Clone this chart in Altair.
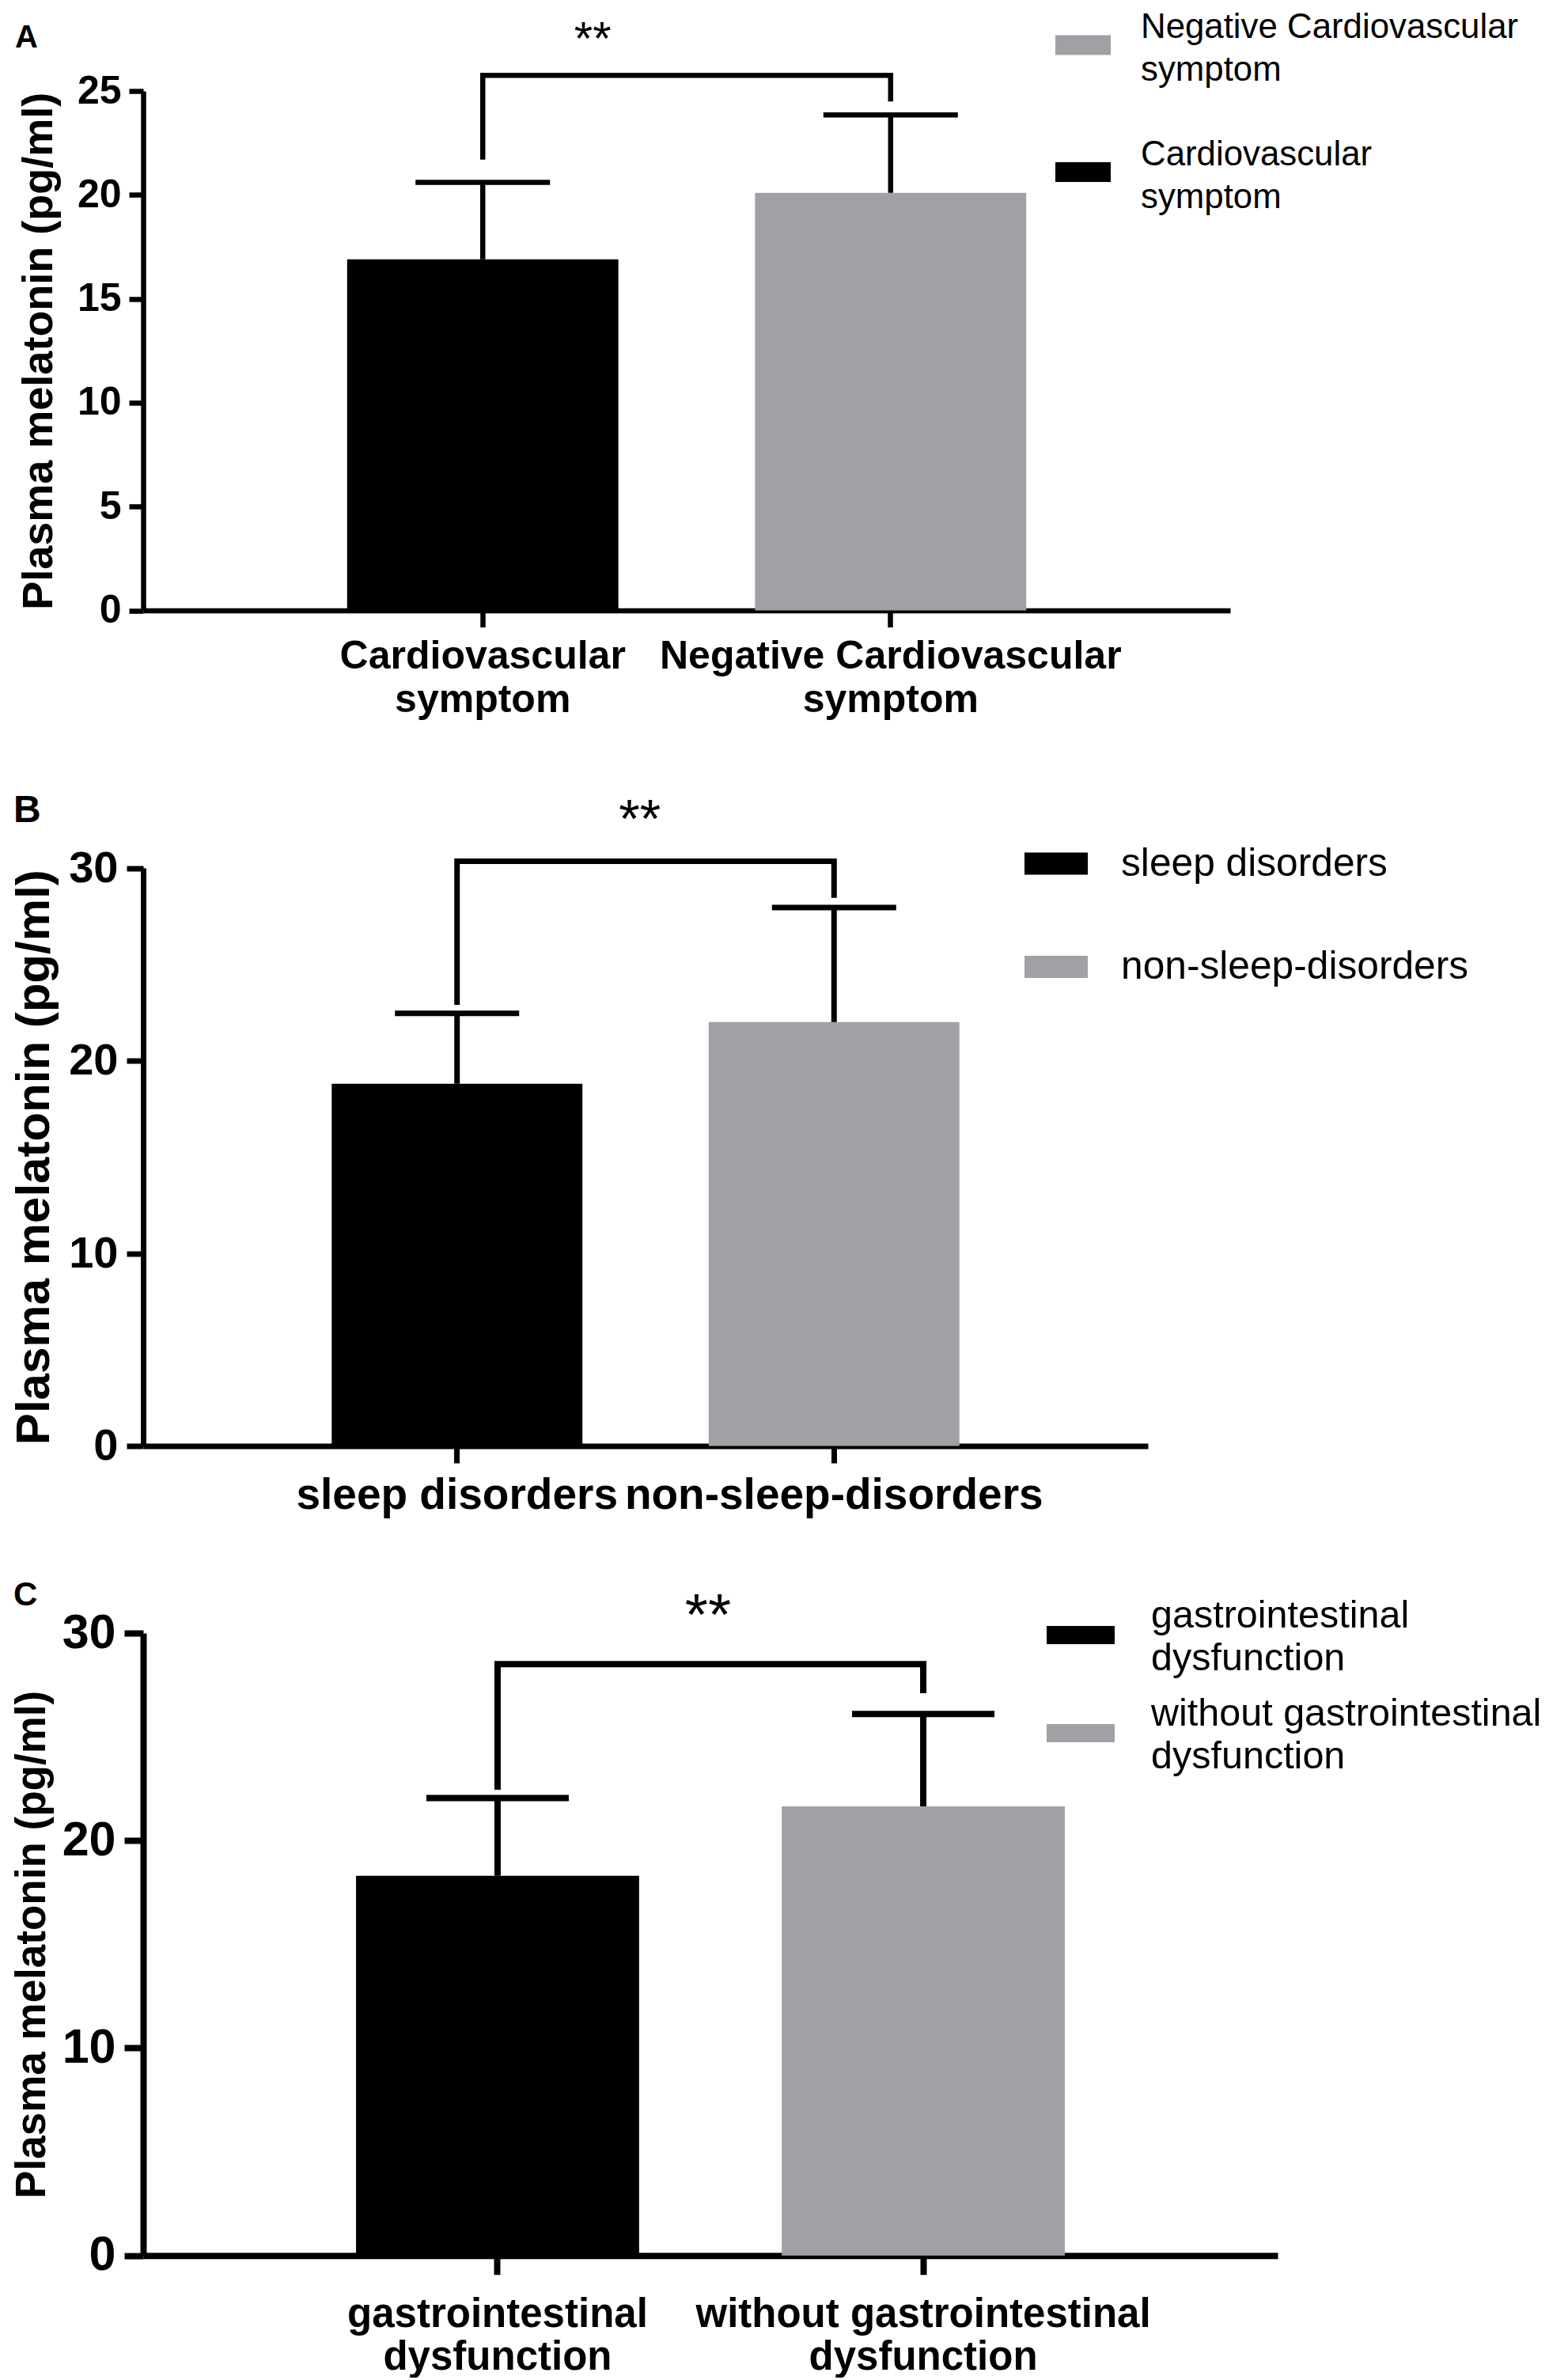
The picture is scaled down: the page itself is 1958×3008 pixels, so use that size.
import altair as alt
import pandas as pd

FONT = "Liberation Sans"
BLACK = "#000000"
GRAY = "#a1a1a5"
YTITLE = "Plasma melatonin (pg/ml)"

# ---------------- data ----------------
# Panel A
a_groups = ["Cardiovascular symptom", "Negative Cardiovascular symptom"]
a_means = [16.9, 20.1]
a_upper = [20.6, 23.85]          # mean + SD (top of error bar)
a_colors = [BLACK, GRAY]
a_legend_order = ["Negative Cardiovascular symptom", "Cardiovascular symptom"]
a_bracket_y = 25.75
a_leg_bottom = [21.7, 24.5]
a_star_y = 28.1
a_yticks = [0, 5, 10, 15, 20, 25]
a_ymax = 25

# Panel B
b_groups = ["sleep disorders", "non-sleep-disorders"]
b_means = [18.8, 22.0]
b_upper = [22.45, 27.95]
b_colors = [BLACK, GRAY]
b_legend_order = ["sleep disorders", "non-sleep-disorders"]
b_bracket_y = 30.35
b_leg_bottom = [22.9, 28.45]
b_star_y = 33.2
b_yticks = [0, 10, 20, 30]
b_ymax = 30

# Panel C
c_groups = ["gastrointestinal dysfunction", "without gastrointestinal dysfunction"]
c_means = [18.3, 21.65]
c_upper = [22.05, 26.1]
c_colors = [BLACK, GRAY]
c_legend_order = ["gastrointestinal dysfunction", "without gastrointestinal dysfunction"]
c_bracket_y = 28.5
c_leg_bottom = [22.45, 27.1]
c_star_y = 31.6
c_yticks = [0, 10, 20, 30]
c_ymax = 30

SPLIT = ("[slice(datum.label, 0, lastindexof(datum.label, ' ')), "
         "slice(datum.label, lastindexof(datum.label, ' ') + 1)]")


def rect_path(h):
    return f"M-1,{-h}L1,{-h}L1,{h}L-1,{h}Z"


def panel(letter, groups, means, upper, colors, legend_order, bracket_y,
          leg_bottom, star_y, yticks, ymax, st):
    bars_df = pd.DataFrame({"group": groups, "mean": means, "upper": upper})
    cmap = dict(zip(groups, colors))
    legend_colors = [cmap[g] for g in legend_order]
    br_df = pd.DataFrame({
        "group": [groups[0], groups[0], groups[1], groups[1]],
        "y": [leg_bottom[0], bracket_y, bracket_y, leg_bottom[1]],
        "k": [0, 1, 2, 3],
    })
    star_df = pd.DataFrame({"group": [groups[0]], "y": [star_y], "t": ["**"]})

    sw = st["sw"]
    yscale_kw = dict(domain=[0, ymax], nice=False, zero=True)
    if "yrange" in st:
        yscale_kw["range"] = st["yrange"]
    yscale = alt.Scale(**yscale_kw)
    yaxis = alt.Axis(
        values=yticks, grid=False, format="d",
        domainColor=BLACK, domainWidth=sw, tickColor=BLACK, tickWidth=sw,
        tickSize=st["ytick"], labelFont=FONT, labelFontSize=st["ylab"],
        labelFontWeight="bold", labelColor=BLACK, labelPadding=st["ylabpad"],
        titleFont=FONT, titleFontSize=st["ytitle"], titleFontWeight="bold",
        titleColor=BLACK, titleAngle=270, titleX=st["titleX"],
        titleY=st["titleY"], titleBaseline="alphabetic", titleAlign="center",
    )
    xscale = alt.Scale(domain=groups, paddingInner=0.335, paddingOuter=0.5)
    xaxis_kw = dict(
        labelAngle=0, labelFont=FONT, labelFontSize=st["xlab"],
        labelFontWeight="bold", labelColor=BLACK, labelLineHeight=st["xlh"],
        labelPadding=st["xlabpad"], labelLimit=1200, tickSize=st["xtick"],
        tickWidth=sw, tickColor=BLACK, domainColor=BLACK, domainWidth=sw,
        grid=False,
    )
    if st["split"]:
        xaxis_kw["labelExpr"] = SPLIT
    xaxis = alt.Axis(**xaxis_kw)

    def X():
        return alt.X("group:N", scale=xscale, axis=xaxis, title=None, sort=groups)

    def Y(field):
        return alt.Y(f"{field}:Q", scale=yscale, axis=yaxis, title=YTITLE)

    legend_kw = dict(
        orient="none", legendX=st["lx"], legendY=st["ly"], title=None,
        symbolType=rect_path(st["sym_h"]), symbolSize=st["sym_w"] ** 2,
        symbolStrokeWidth=0, symbolOpacity=1, labelFont=FONT,
        labelFontSize=st["legfs"], labelColor=BLACK, labelOffset=st["laboff"],
        labelLimit=1200, rowPadding=st["rowpad"], padding=0,
        labelBaseline="bottom" if st["split"] else "middle",
    )
    if st["split"]:
        legend_kw["labelExpr"] = SPLIT

    bars = alt.Chart(bars_df).mark_bar(opacity=1).encode(
        x=X(), y=Y("mean"),
        color=alt.Color("group:N",
                        scale=alt.Scale(domain=legend_order, range=legend_colors),
                        legend=alt.Legend(**legend_kw)),
    )
    stems = alt.Chart(bars_df).mark_rule(color=BLACK, strokeWidth=sw, opacity=1).encode(
        x=X(), y=Y("mean"), y2=alt.Y2("upper:Q"))
    caps = alt.Chart(bars_df).mark_tick(
        color=BLACK, size=st["cap"], thickness=sw, opacity=1).encode(
        x=X(), y=Y("upper"))
    bracket = alt.Chart(br_df).mark_line(
        color=BLACK, strokeWidth=sw, strokeJoin="miter", strokeCap="butt",
        opacity=1).encode(
        x=X(), y=Y("y"), order=alt.Order("k:Q"))
    stars = alt.Chart(star_df).mark_text(
        font=FONT, fontSize=st["starfs"], color=BLACK, align="center",
        baseline="middle", dx=st["stardx"], dy=round(0.28 * st["starfs"])).encode(
        x=X(), y=Y("y"), text="t:N")

    return alt.layer(bars, stems, caps, bracket, stars).properties(
        width=st["w"], height=st["h"],
        title=alt.TitleParams(text=letter, anchor="start", frame="group",
                              font=FONT, fontSize=st["letfs"], fontWeight="bold",
                              color=BLACK, dx=st["letdx"], offset=st["letoff"],
                              baseline="alphabetic"),
    )


st_a = dict(w=1374, h=656.5, sw=6.5, ytick=18, xtick=21, ylab=50, ylabpad=10,
            ytitle=54, titleX=-116, titleY=328.25, xlab=50, xlh=55, xlabpad=11.5,
            split=True, cap=170, starfs=60, stardx=139,
            lx=1153, ly=-93, sym_w=70, sym_h=0.357, legfs=43.8, laboff=38,
            rowpad=62.5, letfs=40, letdx=-162, letoff=-79)
st_b = dict(w=1270, h=819, yrange=[819, 88.5], sw=7, ytick=21, xtick=21.5,
            ylab=56, ylabpad=11, ytitle=60, titleX=-120, titleY=453.75, xlab=55,
            xlh=60, xlabpad=14.5, split=False, cap=157, starfs=68, stardx=231,
            lx=1114, ly=43, sym_w=80, sym_h=0.35, legfs=49.7,
            laboff=42, rowpad=65.5, letfs=48, letdx=-164, letoff=-82.7)
st_c = dict(w=1434, h=786.7, sw=8, ytick=24, xtick=24, ylab=61, ylabpad=11,
            ytitle=53, titleX=-125, titleY=393.35, xlab=51, xlh=54, xlabpad=26,
            split=True, cap=180, starfs=75, stardx=266,
            lx=1142, ly=-40.5, sym_w=86, sym_h=0.267, legfs=48.5, laboff=46,
            rowpad=21, letfs=42, letdx=-164, letoff=-65)

pa = panel("A", a_groups, a_means, a_upper, a_colors, a_legend_order, a_bracket_y,
           a_leg_bottom, a_star_y, a_yticks, a_ymax, st_a)
pb = panel("B", b_groups, b_means, b_upper, b_colors, b_legend_order, b_bracket_y,
           b_leg_bottom, b_star_y, b_yticks, b_ymax, st_b)
pc = panel("C", c_groups, c_means, c_upper, c_colors, c_legend_order, c_bracket_y,
           c_leg_bottom, c_star_y, c_yticks, c_ymax, st_c)

chart = alt.vconcat(pa, pb, pc, spacing=236.5, bounds="flush").properties(
    padding={"left": 4, "top": 12, "right": 0, "bottom": 0}, background="white"
).resolve_scale(
    x="independent", y="independent", color="independent"
).configure(
    style={"guide-label": {"lineHeight": 54}}
).configure_view(strokeWidth=0)

chart.save("out.html", embed_options={"renderer": "svg", "actions": False})
